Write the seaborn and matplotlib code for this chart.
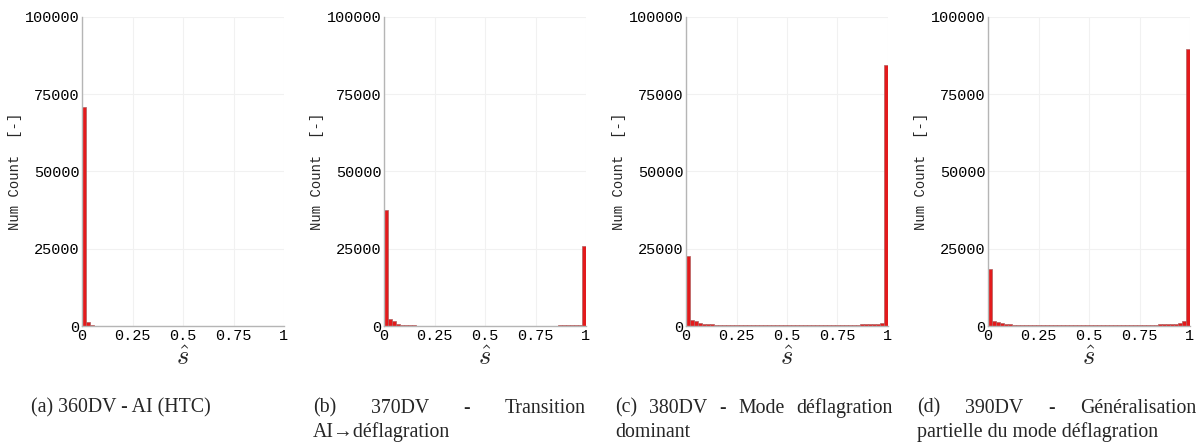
import numpy as np
import pandas as pd
import matplotlib
matplotlib.use("Agg")
import matplotlib.pyplot as plt
import seaborn as sns

# histogram counts, 50 bins of width 0.02 on [0, 1]
bin_edges = np.linspace(0, 1, 51)
bin_centers = 0.5 * (bin_edges[:-1] + bin_edges[1:])

counts_360 = [71000, 1300, 400, 120, 60, 30, 20, 10, 10, 5,
              5, 5, 0, 0, 0, 0, 0, 0, 0, 0,
              0, 0, 0, 0, 0, 0, 0, 0, 0, 0,
              0, 0, 0, 0, 0, 0, 0, 0, 0, 0,
              0, 0, 0, 0, 0, 0, 0, 0, 0, 0]
counts_370 = [37500, 2400, 1700, 800, 400, 250, 200, 170, 150, 140,
              130, 120, 110, 100, 100, 95, 90, 90, 85, 85,
              80, 80, 80, 80, 80, 80, 80, 80, 80, 85,
              85, 85, 90, 90, 95, 100, 100, 105, 110, 120,
              130, 140, 150, 170, 190, 220, 260, 320, 450, 25800]
counts_380 = [22800, 2000, 1500, 1000, 800, 650, 550, 480, 420, 380,
              350, 320, 300, 280, 270, 260, 250, 240, 235, 230,
              225, 220, 220, 220, 220, 220, 225, 230, 235, 240,
              250, 260, 270, 280, 290, 300, 320, 340, 360, 380,
              400, 430, 460, 500, 550, 600, 650, 750, 900, 84500]
counts_390 = [18500, 1600, 1200, 900, 700, 550, 450, 400, 350, 320,
              300, 280, 260, 250, 240, 230, 220, 215, 210, 205,
              200, 200, 200, 200, 200, 205, 210, 215, 220, 230,
              240, 250, 260, 270, 280, 300, 320, 340, 360, 390,
              420, 460, 500, 550, 620, 700, 800, 1000, 1500, 89500]

panel_counts = [counts_360, counts_370, counts_380, counts_390]

x_ticks = [0, 0.25, 0.5, 0.75, 1]
x_tick_labels = ["0", "0.25", "0.5", "0.75", "1"]
y_ticks = [0, 25000, 50000, 75000, 100000]

captions = [
    [["(a) 360DV - AI (HTC)"]],
    [["(b)", "370DV", "-", "Transition"], ["AI\u2192d\u00e9flagration"]],
    [["(c)", "380DV", "-", "Mode", "d\u00e9flagration"], ["dominant"]],
    [["(d)", "390DV", "-", "G\u00e9n\u00e9ralisation"], ["partielle du mode d\u00e9flagration"]],
]

sns.set_style("white")
plt.rcParams["font.family"] = ["Liberation Mono", "DejaVu Sans Mono"]
plt.rcParams["mathtext.fontset"] = "cm"

W, H = 1201, 448
fig = plt.figure(figsize=(W / 100, H / 100), dpi=100)

bar_color = "#e31a1c"
edge_color = "#b06060"
axis_grey = "#b5b5b5"

for i, counts in enumerate(panel_counts):
    df = pd.DataFrame({"s": bin_centers, "n": np.asarray(counts, dtype=float)})
    left = (82 + 302 * i) / W
    ax = fig.add_axes([left, (H - 326) / H, 202 / W, 309 / H])
    sns.histplot(data=df, x="s", weights="n", bins=list(bin_edges), ax=ax,
                 color=bar_color, edgecolor=edge_color, linewidth=0.5,
                 alpha=1.0)
    ax.set_xlim(0, 1)
    ax.set_ylim(0, 100000)
    ax.set_xticks(x_ticks)
    ax.set_xticklabels(x_tick_labels)
    ax.set_yticks(y_ticks)
    ax.set_yticklabels([str(v) for v in y_ticks])
    ax.tick_params(length=0, pad=2, labelsize=11, colors="black")
    ax.grid(True, color="#f1f1f1", linewidth=0.8)
    ax.set_axisbelow(True)
    for side in ["top", "right"]:
        ax.spines[side].set_visible(False)
    for side in ["left", "bottom"]:
        ax.spines[side].set_color(axis_grey)
        ax.spines[side].set_linewidth(1.0)
    ax.set_ylabel("Num Count  [-]", fontsize=10, labelpad=2)
    ax.set_xlabel(r"$\hat{s}$", fontsize=19, labelpad=2)

# captions (justified like the LaTeX subcaptions)
cap_font = dict(family=["Liberation Serif", "DejaVu Serif"], fontsize=14.3, va="center")
cap_boxes = [(31, 290), (313, 586), (615, 893), (917, 1196)]
line_y = [408, 432]
renderer = fig.canvas.get_renderer()
for (x0, x1), lines in zip(cap_boxes, captions):
    for li, words in enumerate(lines):
        y = 1 - line_y[li] / H
        texts = [fig.text(0, y, w, ha="left", **cap_font) for w in words]
        if len(words) == 1:
            texts[0].set_x(x0 / W)
            continue
        widths = [t.get_window_extent(renderer).width for t in texts]
        gap = ((x1 - x0) - sum(widths)) / (len(words) - 1)
        xpos = x0
        for t, w in zip(texts, widths):
            t.set_x(xpos / W)
            xpos += w + gap

fig.savefig("out.png", dpi=100)
